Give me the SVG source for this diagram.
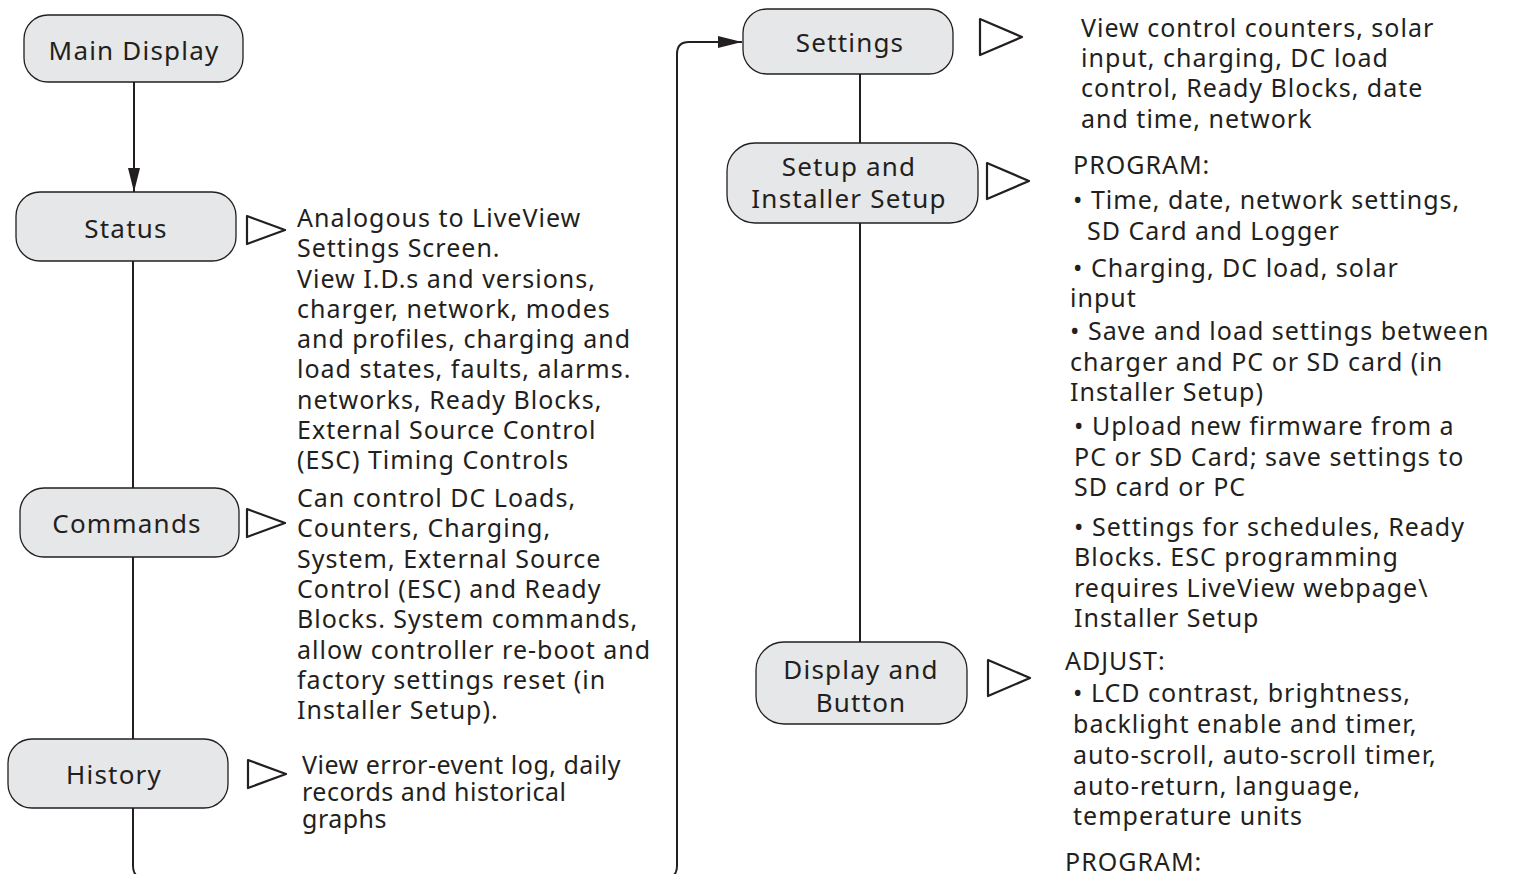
<svg xmlns="http://www.w3.org/2000/svg" width="1518" height="874" viewBox="0 0 1518 874">
<style>
.box{fill:#e6e7e8;stroke:#231f20;stroke-width:1.3}
.lbl{font-family:"Noto Sans","Liberation Sans",sans-serif;font-size:26px;letter-spacing:1.2px;fill:#231f20;text-anchor:middle;dominant-baseline:central}
.txt{font-family:"Noto Sans","Liberation Sans",sans-serif;font-size:25px;letter-spacing:1px;fill:#231f20}
.tri{fill:#ffffff;stroke:#231f20;stroke-width:2.2;stroke-linejoin:round}
.con{fill:none;stroke:#231f20;stroke-width:2}
</style>
<defs>
<marker id="ah2" viewBox="0 0 24 12" refX="24" refY="6" markerWidth="24" markerHeight="12" markerUnits="userSpaceOnUse" orient="auto">
<path d="M0,0 L24,6 L0,12 z" fill="#231f20"/>
</marker>
</defs>
<g id="connectors">
<line class="con" x1="134" y1="82" x2="134" y2="192" marker-end="url(#ah2)"/>
<line class="con" x1="133" y1="261" x2="133" y2="488"/>
<line class="con" x1="133" y1="557" x2="133" y2="739"/>
<path class="con" d="M133,808 V866 Q133,878 145,878 H665 Q677,878 677,866 V54 Q677,42 689,42 H742" marker-end="url(#ah2)"/>
<line class="con" x1="860" y1="74" x2="860" y2="143"/>
<line class="con" x1="860" y1="223" x2="860" y2="642"/>
</g>
<g id="main-display">
<rect class="box" x="24" y="15" width="219" height="67" rx="24"/>
<text class="lbl" x="134" y="50">Main Display</text>
</g>
<g id="status">
<rect class="box" x="16" y="192" width="220" height="69" rx="24"/>
<text class="lbl" x="126" y="228">Status</text>
<path class="tri" d="M247,216 L285,230 L247,244 Z"/>
<text class="txt">
<tspan x="297" y="227">Analogous to LiveView</tspan>
<tspan x="297" y="257">Settings Screen.</tspan>
<tspan x="297" y="288">View I.D.s and versions,</tspan>
<tspan x="297" y="318">charger, network, modes</tspan>
<tspan x="297" y="348">and profiles, charging and</tspan>
<tspan x="297" y="378">load states, faults, alarms.</tspan>
<tspan x="297" y="409">networks, Ready Blocks,</tspan>
<tspan x="297" y="439">External Source Control</tspan>
<tspan x="297" y="469">(ESC) Timing Controls</tspan>
</text>
</g>
<g id="commands">
<rect class="box" x="20" y="488" width="219" height="69" rx="24"/>
<text class="lbl" x="127" y="523">Commands</text>
<path class="tri" d="M247,509 L285,523 L247,537 Z"/>
<text class="txt">
<tspan x="297" y="507">Can control DC Loads,</tspan>
<tspan x="297" y="537">Counters, Charging,</tspan>
<tspan x="297" y="568">System, External Source</tspan>
<tspan x="297" y="598">Control (ESC) and Ready</tspan>
<tspan x="297" y="628">Blocks. System commands,</tspan>
<tspan x="297" y="659">allow controller re-boot and</tspan>
<tspan x="297" y="689">factory settings reset (in</tspan>
<tspan x="297" y="719">Installer Setup).</tspan>
</text>
</g>
<g id="history">
<rect class="box" x="8" y="739" width="220" height="69" rx="24"/>
<text class="lbl" x="114" y="774">History</text>
<path class="tri" d="M248,760 L286,774 L248,788 Z"/>
<text class="txt" style="letter-spacing:0.5px">
<tspan x="302" y="774">View error-event log, daily</tspan>
<tspan x="302" y="801">records and historical</tspan>
<tspan x="302" y="828">graphs</tspan>
</text>
</g>
<g id="settings">
<rect class="box" x="743" y="9" width="210" height="65" rx="24"/>
<text class="lbl" x="850" y="42">Settings</text>
<path class="tri" d="M980,19 L1022,37 L980,55 Z"/>
<text class="txt">
<tspan x="1081" y="37">View control counters, solar</tspan>
<tspan x="1081" y="67">input, charging, DC load</tspan>
<tspan x="1081" y="97">control, Ready Blocks, date</tspan>
<tspan x="1081" y="128">and time, network</tspan>
</text>
</g>
<g id="setup">
<rect class="box" x="727" y="143" width="251" height="80" rx="28"/>
<text class="lbl" x="849" y="166">Setup and</text>
<text class="lbl" x="849" y="198">Installer Setup</text>
<path class="tri" d="M987,163 L1029,181 L987,199 Z"/>
<text class="txt">
<tspan x="1073" y="174">PROGRAM:</tspan>
<tspan x="1073" y="209">• Time, date, network settings,</tspan>
<tspan x="1087" y="240">SD Card and Logger</tspan>
<tspan x="1073" y="277">• Charging, DC load, solar</tspan>
<tspan x="1070" y="307">input</tspan>
<tspan x="1070" y="340">• Save and load settings between</tspan>
<tspan x="1070" y="371">charger and PC or SD card (in</tspan>
<tspan x="1070" y="401">Installer Setup)</tspan>
<tspan x="1074" y="435">• Upload new firmware from a</tspan>
<tspan x="1074" y="466">PC or SD Card; save settings to</tspan>
<tspan x="1074" y="496">SD card or PC</tspan>
<tspan x="1074" y="536">• Settings for schedules, Ready</tspan>
<tspan x="1074" y="566">Blocks. ESC programming</tspan>
<tspan x="1074" y="597">requires LiveView webpage\</tspan>
<tspan x="1074" y="627">Installer Setup</tspan>
</text>
</g>
<g id="display-button">
<rect class="box" x="756" y="642" width="211" height="82" rx="28"/>
<text class="lbl" x="861" y="669">Display and</text>
<text class="lbl" x="861" y="702">Button</text>
<path class="tri" d="M988,660 L1030,678 L988,696 Z"/>
<text class="txt">
<tspan x="1065" y="670">ADJUST:</tspan>
<tspan x="1073" y="702">• LCD contrast, brightness,</tspan>
<tspan x="1073" y="733">backlight enable and timer,</tspan>
<tspan x="1073" y="764">auto-scroll, auto-scroll timer,</tspan>
<tspan x="1073" y="795">auto-return, language,</tspan>
<tspan x="1073" y="825">temperature units</tspan>
<tspan x="1065" y="871">PROGRAM:</tspan>
</text>
</g>
</svg>
